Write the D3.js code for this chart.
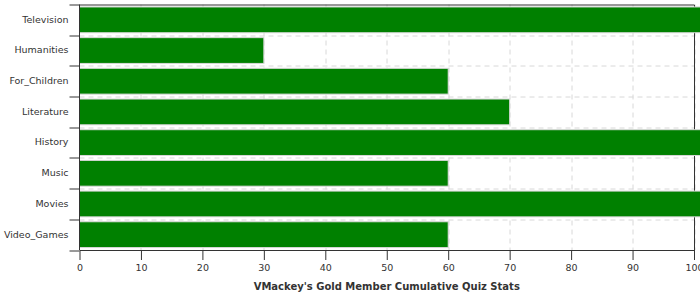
<!DOCTYPE html>
<html>
<head>
<meta charset="utf-8">
<script src="https://cdn.jsdelivr.net/npm/d3@7"></script>
<style>
  body { margin: 0; background: #fff; }
  svg { display: block; font-family: "DejaVu Sans", sans-serif; }
</style>
</head>
<body>
<div id="chart"></div>
<script>
// categories top to bottom
const categories = ["Television", "Humanities", "For_Children", "Literature", "History", "Music", "Movies", "Video_Games"]
// bars that run past 100 are cut off at the right edge in the original
const values = [110, 30, 60, 70, 110, 60, 110, 60]
const xTicks = [0, 10, 20, 30, 40, 50, 60, 70, 80, 90, 100]
const title = "VMackey's Gold Member Cumulative Quiz Stats"

const width = 700, height = 300
const margin = {top: 4.5, right: 6, bottom: 50, left: 79.5}
const innerW = width - margin.left - margin.right
const innerH = height - margin.top - margin.bottom

const svg = d3.select("#chart")
  .append("svg")
  .attr("width", width)
  .attr("height", height)

const g = svg.append("g")
  .attr("transform", "translate(" + margin.left + "," + margin.top + ")")

const x = d3.scaleLinear()
  .domain([0, 100])
  .range([0, innerW])

const y = d3.scaleBand()
  .domain(categories)
  .range([0, innerH])
  .paddingInner(0.16)
  .paddingOuter(0.08)

// band boundaries for the ticks / horizontal grid
const step = innerH / categories.length
const bounds = d3.range(categories.length + 1).map(i => i * step)

// grid lines
g.append("g")
  .selectAll("line")
  .data(xTicks.slice(1))
  .join("line")
  .attr("x1", d => Math.round(x(d)) + 0.5)
  .attr("x2", d => Math.round(x(d)) + 0.5)
  .attr("y1", 0)
  .attr("y2", innerH)
  .attr("stroke", "#d8d8d8")
  .attr("stroke-dasharray", "5,4")

g.append("g")
  .selectAll("line")
  .data(bounds.slice(1, -1))
  .join("line")
  .attr("x1", 0)
  .attr("x2", innerW)
  .attr("y1", d => Math.round(d) + 0.5)
  .attr("y2", d => Math.round(d) + 0.5)
  .attr("stroke", "#d8d8d8")
  .attr("stroke-dasharray", "5,4")

// frame top and right
g.append("path")
  .attr("d", "M0,0.5H" + (innerW + 0.5) + "V" + innerH)
  .attr("fill", "none")
  .attr("stroke", "#333")

// bars
g.append("g")
  .selectAll("rect")
  .data(values)
  .join("rect")
  .attr("x", 0)
  .attr("y", (d, i) => y(categories[i]))
  .attr("width", d => x(d))
  .attr("height", y.bandwidth())
  .attr("fill", "#008000")
  .attr("stroke", "#d8d8d8")
  .attr("stroke-width", 1)

// x axis
const xAxis = g.append("g")
  .attr("transform", "translate(0," + innerH + ")")
  .call(d3.axisBottom(x).tickValues(xTicks).tickSize(10).tickSizeOuter(0))
xAxis.select(".domain").attr("stroke", "#333")
xAxis.selectAll(".tick line").attr("stroke", "#333")
xAxis.selectAll("text")
  .attr("fill", "#333")
  .attr("font-size", 9.5)
  .attr("font-family", "DejaVu Sans")
  .attr("dy", "0.85em")

// y axis: ticks sit on band boundaries, labels centred in bands
g.append("line")
  .attr("x1", 0).attr("x2", 0)
  .attr("y1", 0).attr("y2", innerH)
  .attr("stroke", "#333")

g.append("g")
  .selectAll("line")
  .data(bounds)
  .join("line")
  .attr("x1", -10)
  .attr("x2", 0)
  .attr("y1", d => Math.round(d) + 0.5)
  .attr("y2", d => Math.round(d) + 0.5)
  .attr("stroke", "#333")

g.append("g")
  .selectAll("text")
  .data(categories)
  .join("text")
  .attr("x", -11)
  .attr("y", d => y(d) + y.bandwidth() / 2)
  .attr("dy", "0.3em")
  .attr("text-anchor", "end")
  .attr("font-size", 9.5)
  .attr("fill", "#333")
  .text(d => d)

// axis title
svg.append("text")
  .attr("x", margin.left + innerW / 2)
  .attr("y", 290)
  .attr("text-anchor", "middle")
  .attr("font-size", 10)
  .attr("font-weight", "bold")
  .attr("fill", "#333")
  .text(title)
</script>
</body>
</html>
